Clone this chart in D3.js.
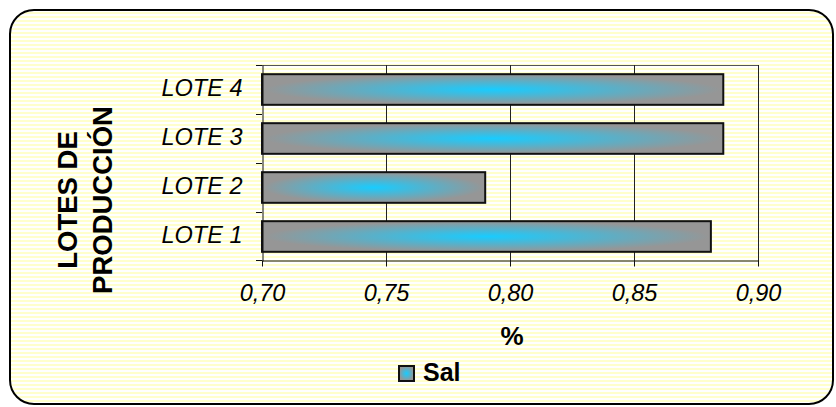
<!DOCTYPE html>
<html>
<head>
<meta charset="utf-8">
<script src="https://cdn.jsdelivr.net/npm/d3@7"></script>
<style>
  body { margin: 0; background: #fff; }
  svg { display: block; }
</style>
</head>
<body>
<script>
// chart values
var lotes = ["LOTE 1", "LOTE 2", "LOTE 3", "LOTE 4"];
var sal = [0.881, 0.79, 0.886, 0.886];
var xTicks = [0.70, 0.75, 0.80, 0.85, 0.90];
var serie = "Sal";

var width = 836, height = 407;
var plot = {left: 262, right: 758, top: 65, bottom: 261};

var svg = d3.select("body")
            .append("svg")
            .attr("width", width)
            .attr("height", height);

var defs = svg.append("defs");

// pale yellow stripes for the chart background
var pat = defs.append("pattern")
    .attr("id", "stripes")
    .attr("patternUnits", "userSpaceOnUse")
    .attr("width", 4)
    .attr("height", 4);
pat.append("rect").attr("width", 4).attr("height", 4).attr("fill", "#ffffff");
pat.append("rect").attr("width", 4).attr("height", 2).attr("fill", "#ffffcc");

// gray -> cyan "from center" fill
var grad = defs.append("radialGradient")
    .attr("id", "barFill")
    .attr("cx", 0.5).attr("cy", 0.5).attr("r", 0.55);
grad.append("stop").attr("offset", 0).attr("stop-color", "#18ccff");
grad.append("stop").attr("offset", 0.9).attr("stop-color", "#969696");

svg.append("rect")
    .attr("x", 10).attr("y", 10)
    .attr("width", 823).attr("height", 394)
    .attr("rx", 24).attr("ry", 24)
    .attr("fill", "url(#stripes)")
    .attr("stroke", "#000")
    .attr("stroke-width", 2);

var x = d3.scaleLinear().domain([0.70, 0.90]).range([plot.left, plot.right]);
var y = d3.scaleBand().domain(lotes.slice().reverse()).range([plot.top, plot.bottom]);
var barH = y.bandwidth() / 1.6;
var fmt = function(d) { return d3.format(".2f")(d).replace(".", ","); };

// top frame line
svg.append("line")
    .attr("x1", plot.left).attr("x2", plot.right)
    .attr("y1", plot.top + 0.5).attr("y2", plot.top + 0.5)
    .attr("stroke", "#555").attr("stroke-width", 1);

// vertical gridlines
svg.selectAll(".grid")
    .data(xTicks.slice(1))
    .enter().append("line")
    .attr("class", "grid")
    .attr("x1", function(d) { return Math.round(x(d)) + 0.5; })
    .attr("x2", function(d) { return Math.round(x(d)) + 0.5; })
    .attr("y1", plot.top).attr("y2", plot.bottom)
    .attr("stroke", "#222").attr("stroke-width", 1);

// bars
svg.selectAll(".bar")
    .data(sal)
    .enter().append("rect")
    .attr("class", "bar")
    .attr("x", x(0.70))
    .attr("y", function(d, i) { return y(lotes[i]) + (y.bandwidth() - barH) / 2; })
    .attr("width", function(d) { return x(d) - x(0.70); })
    .attr("height", barH)
    .attr("fill", "url(#barFill)")
    .attr("stroke", "#111")
    .attr("stroke-width", 2);

// x axis
var xAxis = svg.append("g")
    .attr("transform", "translate(0," + (plot.bottom - 0.5) + ")")
    .call(d3.axisBottom(x).tickValues(xTicks).tickSize(6).tickSizeOuter(0).tickFormat(fmt));
xAxis.select(".domain").attr("stroke", "#111");
xAxis.selectAll(".tick line").attr("stroke", "#111");
xAxis.selectAll("text")
    .attr("dy", null)
    .attr("y", 40)
    .attr("fill", "#000")
    .style("font-family", "Liberation Sans, Arial, sans-serif")
    .style("font-style", "italic")
    .style("font-size", "23.5px");

// y axis
var yAxis = svg.append("g")
    .attr("transform", "translate(" + (plot.left + 0.5) + ",0)")
    .call(d3.axisLeft(y).tickSize(0).tickPadding(20));
yAxis.select(".domain").attr("stroke", "#111");
yAxis.selectAll("text")
    .attr("dy", "0.28em")
    .attr("fill", "#000")
    .style("font-family", "Liberation Sans, Arial, sans-serif")
    .style("font-style", "italic")
    .style("font-size", "23.5px");

// band boundary ticks
svg.selectAll(".ytick")
    .data(lotes)
    .enter().append("line")
    .attr("class", "ytick")
    .attr("x1", plot.left - 6).attr("x2", plot.left)
    .attr("y1", function(d) { return y(d) + 0.5; })
    .attr("y2", function(d) { return y(d) + 0.5; })
    .attr("stroke", "#111");
svg.append("line")
    .attr("x1", plot.left - 6).attr("x2", plot.left)
    .attr("y1", plot.bottom - 0.5).attr("y2", plot.bottom - 0.5)
    .attr("stroke", "#111");

// axis titles
var yTitle = svg.append("text")
    .attr("transform", "translate(0,200) rotate(-90)")
    .attr("text-anchor", "middle")
    .style("font-family", "Liberation Sans, Arial, sans-serif")
    .style("font-weight", "bold")
    .style("font-size", "27.5px");
yTitle.append("tspan").attr("x", 0).attr("y", 77).text("LOTES DE");
yTitle.append("tspan").attr("x", 0).attr("y", 112).text("PRODUCCIÓN");

svg.append("text")
    .attr("x", 512).attr("y", 345)
    .attr("text-anchor", "middle")
    .style("font-family", "Liberation Sans, Arial, sans-serif")
    .style("font-weight", "bold")
    .style("font-size", "26px")
    .text("%");

// legend
svg.append("rect")
    .attr("x", 399).attr("y", 366)
    .attr("width", 15).attr("height", 15)
    .attr("fill", "url(#barFill)")
    .attr("stroke", "#111")
    .attr("stroke-width", 2);
svg.append("text")
    .attr("x", 423).attr("y", 381)
    .style("font-family", "Liberation Sans, Arial, sans-serif")
    .style("font-weight", "bold")
    .style("font-size", "25px")
    .text(serie);
</script>
</body>
</html>
